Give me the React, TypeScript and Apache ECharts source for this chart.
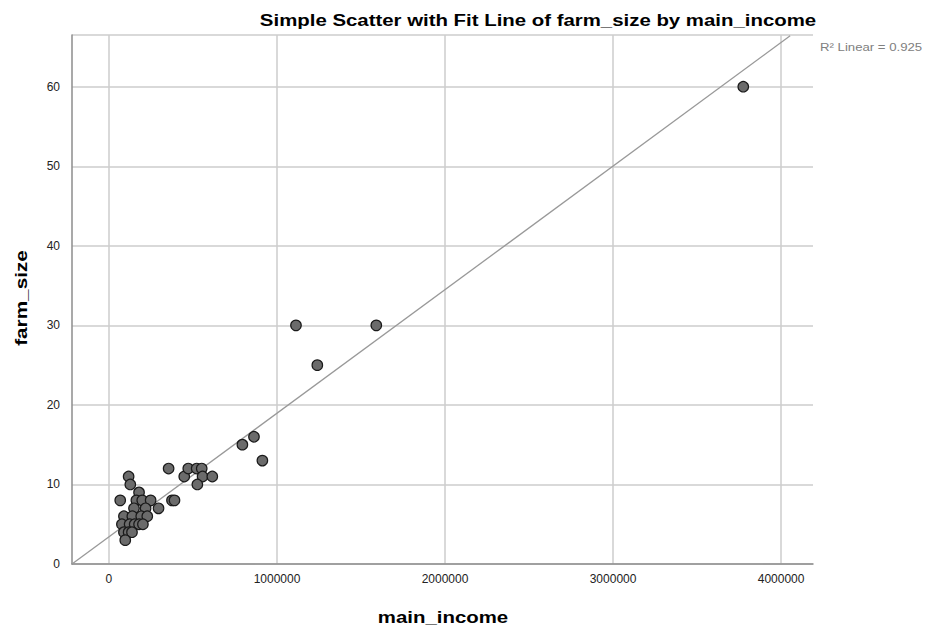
import React, { useEffect, useRef } from "react";
import * as echarts from "echarts";

const incomes = [
  117000, 127000, 179000, 67000, 163000, 198000, 248000, 149000, 218000, 295000,
  89000, 139000, 192000, 228000, 77000, 123000, 153000, 179000, 202000, 89000,
  117000, 137000, 97000,
  355000, 375000, 390000, 448000, 472000, 522000, 552000, 557000, 615000, 526000,
  794000, 863000, 913000,
  1113000, 1591000, 1240000, 3775000,
];
const farmSizes = [
  11, 10, 9, 8, 8, 8, 8, 7, 7, 7,
  6, 6, 6, 6, 5, 5, 5, 5, 5, 4,
  4, 4, 3,
  12, 8, 8, 11, 12, 12, 12, 11, 11, 10,
  15, 16, 13,
  30, 30, 25, 60,
];
const xTicks = [0, 1000000, 2000000, 3000000, 4000000];
const fitLineX = [-220000, 4054000];
const fitLineY = [0, 66.4];
const titleText = "Simple Scatter with Fit Line of farm_size by main_income";
const xName = "main_income";
const yName = "farm_size";
const r2Label = "R² Linear = 0.925";

const FONT = "'Liberation Sans', Arial, sans-serif";

export default function App() {
  const ref = useRef<HTMLDivElement>(null);
  useEffect(() => {
    if (!ref.current) return;
    const chart = echarts.init(ref.current, null, { renderer: "svg" });
    const points = incomes.map((x, i) => [x, farmSizes[i]]);
    const fit = fitLineX.map((x, i) => [x, fitLineY[i]]);
    const boldStyle = { fontFamily: FONT, fontSize: 17, fontWeight: "bold", fill: "#000", align: "center", verticalAlign: "middle" };
    chart.setOption({
      animation: false,
      backgroundColor: "#ffffff",
      textStyle: { fontFamily: FONT },
      grid: { left: 72, right: 122, top: 35, bottom: 69, containLabel: false, outerBoundsMode: "none" },
      xAxis: {
        type: "value",
        min: -220000,
        max: 4190000,
        axisLine: { show: true, onZero: false, lineStyle: { color: "#8c8c8c", width: 1.5 } },
        axisTick: { show: false, customValues: xTicks },
        axisLabel: {
          customValues: xTicks,
          margin: 9,
          fontSize: 12,
          color: "#222",
          fontFamily: FONT,
          formatter: (v: number) => String(Math.round(v)),
        },
        splitLine: { show: true, lineStyle: { color: "#cccccc", width: 1.5 } },
      },
      yAxis: {
        type: "value",
        min: 0,
        max: 66.5,
        interval: 10,
        axisLine: { show: true, onZero: false, lineStyle: { color: "#8c8c8c", width: 1.5 } },
        axisTick: { show: false },
        axisLabel: {
          margin: 12,
          fontSize: 12,
          color: "#222",
          fontFamily: FONT,
          showMaxLabel: false,
          formatter: (v: number) => (v % 10 === 0 ? String(v) : ""),
        },
        splitLine: { show: true, lineStyle: { color: "#cccccc", width: 1.5 } },
      },
      series: [
        {
          type: "line",
          data: fit,
          symbol: "none",
          lineStyle: { color: "#999999", width: 1.3 },
          silent: true,
          z: 2,
        },
        {
          type: "scatter",
          data: points,
          symbol: "circle",
          symbolSize: 10.5,
          itemStyle: { color: "#6b6b6b", borderColor: "#1a1a1a", borderWidth: 1.2, opacity: 1 },
          z: 3,
        },
      ],
      graphic: [
        { type: "text", x: 538, y: 20, scaleX: 1.2, style: { text: titleText, ...boldStyle } },
        { type: "text", x: 443, y: 617, scaleX: 1.2, style: { text: xName, ...boldStyle } },
        { type: "text", x: 21, y: 298, scaleX: 1.22, rotation: Math.PI / 2, style: { text: yName, ...boldStyle } },
        {
          type: "text",
          x: 820,
          y: 47,
          scaleX: 1.2,
          style: { text: r2Label, fill: "#808080", fontSize: 11, fontFamily: FONT, align: "left", verticalAlign: "middle" },
        },
      ],
    });
    return () => chart.dispose();
  }, []);
  return <div ref={ref} style={{ position: "fixed", left: 0, top: 0, width: 935, height: 633 }} />;
}
